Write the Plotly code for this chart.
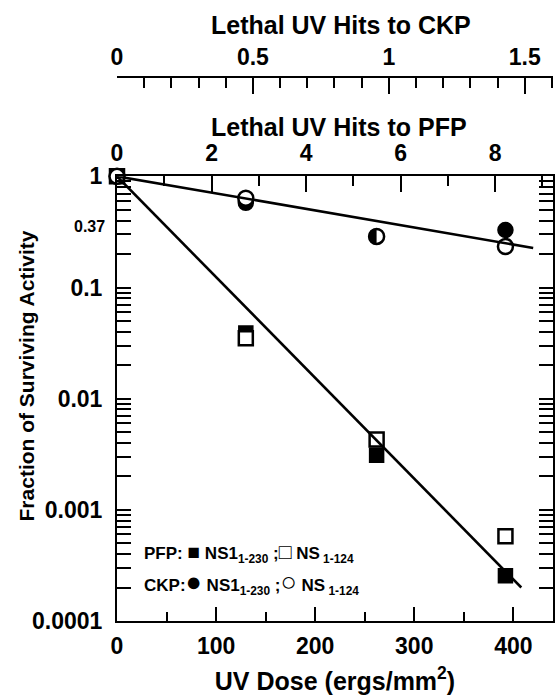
import math
import plotly.graph_objects as go

# UV inactivation of PFP and CKP protease activities
dose = [0, 130, 262, 392]                         # ergs/mm^2
pfp_ns1_230 = [1.0, 0.039, 0.0031, 0.000255]
pfp_ns1_124 = [1.0, 0.035, 0.0043, 0.00058]
ckp_ns1_230 = [1.0, 0.578, 0.288, 0.329]
ckp_ns1_124 = [1.0, 0.635, 0.288, 0.234]

# fitted single-hit inactivation lines
pfp_fit_dose = [0, 408]
pfp_fit = [1.0, 0.0002]
ckp_fit_dose = [0, 420]
ckp_fit = [1.0, 0.227]

# dose giving one lethal hit (37 % survival) for each activity
pfp_d37 = 47.7
ckp_d37 = 274.3

dose_max = 440
dose_ticks = [0, 100, 200, 300, 400]
dose_minor = [50, 150, 250, 350]
pfp_hit_ticks = [0, 2, 4, 6, 8]
pfp_hit_minor = [1, 3, 5, 7, 9]
ckp_hit_ticks = [0, 0.5, 1, 1.5]
ckp_hit_labels = ["0", "0.5", "1", "1.5"]
ckp_hit_minor = [0.1, 0.2, 0.3, 0.4, 0.6, 0.7, 0.8, 0.9, 1.1, 1.2, 1.3, 1.4, 1.6]
y_ticks = [0.0001, 0.001, 0.01, 0.1, 1]
y_labels = ["0.0001", "0.001", "0.01", "0.1", "1"]
d37_level = 0.37

# the CKP point drawn as a half-filled circle (both constructs coincide)
half_idx = 2

W, H = 558, 695
L, R, T, B = 117, 3, 77, 65
plot_top = 178
plot_h = H - T - B
plot_w = W - L - R
y_top = (H - B - plot_top) / plot_h
px_per_dose = plot_w / dose_max


def py(pix):
    """paper y for a pixel row"""
    return (H - B - pix) / plot_h


def px(pix):
    """paper x for a pixel column"""
    return (pix - L) / plot_w


FONT = "Liberation Sans, Arial, Helvetica, sans-serif"
BLACK = "black"
MS = 14

fig = go.Figure()

# fitted lines, drawn on their own hit axes
fig.add_trace(go.Scatter(
    x=[d / pfp_d37 for d in pfp_fit_dose], y=pfp_fit, xaxis="x2", yaxis="y",
    mode="lines", line=dict(color=BLACK, width=2.6), showlegend=False, hoverinfo="skip"))
fig.add_trace(go.Scatter(
    x=[d / ckp_d37 for d in ckp_fit_dose], y=ckp_fit, xaxis="x3", yaxis="y",
    mode="lines", line=dict(color=BLACK, width=2.6), showlegend=False, hoverinfo="skip"))

# PFP: filled squares NS1 1-230, open squares NS 1-124
fig.add_trace(go.Scatter(
    x=dose, y=pfp_ns1_230, mode="markers", cliponaxis=False, name="PFP NS1 1-230",
    marker=dict(symbol="square", size=MS, color=BLACK, line=dict(color=BLACK, width=1.5)),
    showlegend=False))
fig.add_trace(go.Scatter(
    x=dose, y=pfp_ns1_124, mode="markers", cliponaxis=False, name="PFP NS 1-124",
    marker=dict(symbol="square", size=MS, color="white", line=dict(color=BLACK, width=2.5)),
    showlegend=False))

# CKP: filled circles NS1 1-230, open circles NS 1-124
fig.add_trace(go.Scatter(
    x=dose, y=ckp_ns1_230, mode="markers", cliponaxis=False, name="CKP NS1 1-230",
    marker=dict(symbol="circle", size=MS + 1, color=BLACK, line=dict(color=BLACK, width=1.5)),
    showlegend=False))
# white right half for the coinciding point
fig.add_trace(go.Scatter(
    x=[dose[half_idx] + (MS / 2) / px_per_dose], y=[ckp_ns1_124[half_idx]],
    mode="markers", marker=dict(symbol="square", size=MS, color="white", line=dict(width=0)),
    showlegend=False, hoverinfo="skip"))
fig.add_trace(go.Scatter(
    x=dose, y=ckp_ns1_124, mode="markers", cliponaxis=False, name="CKP NS 1-124",
    marker=dict(symbol="circle", size=MS + 1,
                color=["rgba(0,0,0,0)" if i == half_idx else "white" for i in range(len(dose))],
                line=dict(color=BLACK, width=2.5)),
    showlegend=False))

tick_font = dict(family=FONT, size=23, color=BLACK, weight="bold")
title_font = dict(family=FONT, size=25, color=BLACK, weight="bold")

fig.update_layout(
    width=W, height=H,
    margin=dict(l=L, r=R, t=T, b=B, pad=0),
    paper_bgcolor="white", plot_bgcolor="white",
    showlegend=False,
    xaxis=dict(
        range=[0, dose_max], domain=[0, 1], anchor="y",
        tickmode="array", tickvals=dose_ticks, ticktext=[str(v) for v in dose_ticks],
        ticks="inside", ticklen=14, tickwidth=2, tickcolor=BLACK,
        minor=dict(tickvals=dose_minor, ticks="inside", ticklen=9, tickwidth=2, tickcolor=BLACK),
        showline=True, linewidth=2, linecolor=BLACK, mirror=True,
        showgrid=False, zeroline=False, tickfont=tick_font, ticklabelstandoff=3,
        title=dict(text="UV Dose (ergs/mm<sup>2</sup>)", font=title_font, standoff=16),
    ),
    xaxis2=dict(
        range=[0, dose_max / pfp_d37], overlaying="x", side="top", anchor="y",
        tickmode="array", tickvals=pfp_hit_ticks, ticktext=[str(v) for v in pfp_hit_ticks],
        ticks="inside", ticklen=16, tickwidth=2, tickcolor=BLACK,
        minor=dict(tickvals=pfp_hit_minor, ticks="inside", ticklen=10, tickwidth=2, tickcolor=BLACK),
        showline=True, linewidth=2, linecolor=BLACK,
        showgrid=False, zeroline=False, tickfont=tick_font, ticklabelstandoff=4,
    ),
    xaxis3=dict(
        range=[0, dose_max / ckp_d37], overlaying="x", side="top", anchor="free", position=1,
        tickmode="array", tickvals=ckp_hit_ticks, ticktext=ckp_hit_labels,
        ticks="inside", ticklen=16, tickwidth=2, tickcolor=BLACK,
        minor=dict(tickvals=ckp_hit_minor, ticks="inside", ticklen=10, tickwidth=2, tickcolor=BLACK),
        showline=True, linewidth=2, linecolor=BLACK,
        showgrid=False, zeroline=False, tickfont=tick_font, ticklabelstandoff=2,
    ),
    yaxis=dict(
        type="log", range=[-4, 0], domain=[0, y_top], anchor="x",
        tickmode="array", tickvals=y_ticks, ticktext=y_labels,
        ticks="inside", ticklen=14, tickwidth=2, tickcolor=BLACK,
        minor=dict(tickvals=[m * 10 ** e for e in range(-4, 0) for m in range(2, 10)],
                   ticks="inside", ticklen=8, tickwidth=2, tickcolor=BLACK),
        showline=True, linewidth=2, linecolor=BLACK, mirror="allticks",
        showgrid=False, zeroline=False, tickfont=tick_font, ticklabelstandoff=8,
    ),
)

key_font = dict(family=FONT, size=17, color=BLACK, weight="bold")


def glyph(ch, size=21):
    return f"<span style='font-size:{size}px'>{ch}</span>"


annotations = [
    # top axis titles
    dict(text="Lethal UV Hits to CKP", xref="paper", yref="paper",
         x=px(342), y=py(24), xanchor="center", yanchor="middle", showarrow=False,
         font=title_font),
    dict(text="Lethal UV Hits to PFP", xref="paper", yref="paper",
         x=px(340), y=py(128), xanchor="center", yanchor="middle", showarrow=False,
         font=title_font),
    # y-axis title
    dict(text="Fraction of Surviving Activity", textangle=-90,
         xref="paper", yref="paper", x=px(26), y=py(381),
         xanchor="center", yanchor="middle", showarrow=False,
         font=dict(family=FONT, size=21, color=BLACK, weight="bold")),
    # 1/e survival level
    dict(text=str(d37_level), xref="paper", yref="y", x=0, y=math.log10(d37_level),
         xanchor="right", yanchor="middle", xshift=-10, yshift=-2, showarrow=False,
         font=dict(family=FONT, size=16, color=BLACK, weight="bold")),
    # key
    dict(text=f"PFP: {glyph(chr(0x25A0))} NS1<sub>1-230</sub> ;{glyph(chr(0x25A1))} NS<sub> 1-124</sub>",
         xref="paper", yref="paper", x=px(142), y=py(561),
         xanchor="left", yanchor="middle", showarrow=False, font=key_font),
    dict(text=f"CKP:{glyph(chr(0x25CF), 27)} NS1<sub>1-230</sub> ;{glyph(chr(0x25CB), 27)} NS<sub> 1-124</sub>",
         xref="paper", yref="paper", x=px(142), y=py(591),
         xanchor="left", yanchor="middle", showarrow=False, font=key_font),
]
fig.update_layout(annotations=annotations)

fig.write_html("out.html")
